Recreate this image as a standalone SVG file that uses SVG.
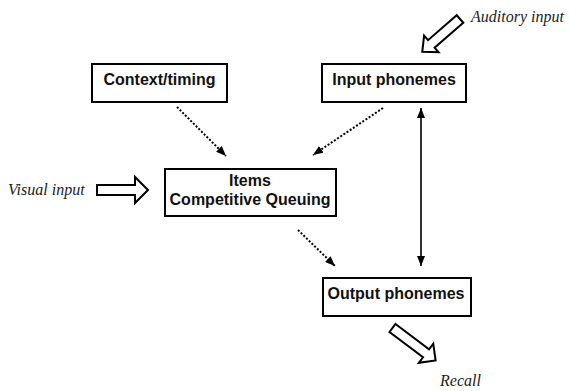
<svg xmlns="http://www.w3.org/2000/svg" width="569" height="391" viewBox="0 0 569 391">
<style>
.box{fill:#fff;stroke:#000;stroke-width:2}
.lbl{font-family:"Liberation Sans",Arial,sans-serif;font-weight:bold;font-size:16px;fill:#111;text-anchor:middle}
.io{font-family:"Liberation Serif","Times New Roman",serif;font-style:italic;font-size:16px;fill:#222}
.dot{stroke:#000;stroke-width:2;stroke-dasharray:2 1.8;fill:none}
.solid{stroke:#000;stroke-width:1.6;fill:none}
.hollow{fill:#fff;stroke:#000;stroke-width:2;stroke-linejoin:miter}
</style>
<defs>
<marker id="ah" viewBox="0 0 10 8" refX="10" refY="4" markerWidth="10" markerHeight="8" markerUnits="userSpaceOnUse" orient="auto-start-reverse">
<path d="M0,0 L10,4 L0,8 Z" fill="#000"/>
</marker>
</defs>
<g id="connectors">
<line class="dot" x1="177" y1="107" x2="226" y2="156" marker-end="url(#ah)"/>
<line class="dot" x1="383" y1="108" x2="313" y2="155" marker-end="url(#ah)"/>
<line class="dot" x1="298" y1="230" x2="335" y2="266" marker-end="url(#ah)"/>
<line class="solid" x1="421" y1="108" x2="421" y2="266" marker-start="url(#ah)" marker-end="url(#ah)"/>
<polygon id="visual-arrow" class="hollow" transform="translate(97,190)" points="0,-5 38,-5 38,-13 51,0 38,13 38,5 0,5"/>
<polygon id="auditory-arrow" class="hollow" transform="translate(460,19) rotate(139)" points="0,-5 38,-5 38,-11 50,0 38,11 38,5 0,5"/>
<polygon id="recall-arrow" class="hollow" transform="translate(392.5,328) rotate(37)" points="0,-5 42,-5 42,-12 54,0 42,12 42,5 0,5"/>
</g>
<g id="context">
<rect class="box" x="92" y="64" width="135" height="38"/>
<text class="lbl" x="159.5" y="85">Context/timing</text>
</g>
<g id="input-phonemes">
<rect class="box" x="322" y="64" width="144" height="38"/>
<text class="lbl" x="394" y="85">Input phonemes</text>
</g>
<g id="items">
<rect class="box" x="165" y="169" width="171" height="47"/>
<text class="lbl" x="250" y="186">Items</text>
<text class="lbl" x="250" y="205">Competitive Queuing</text>
</g>
<g id="output-phonemes">
<rect class="box" x="323" y="278" width="148" height="38"/>
<text class="lbl" x="396" y="299">Output phonemes</text>
</g>
<text class="io" x="8" y="195">Visual input</text>
<text class="io" x="471" y="22">Auditory input</text>
<text class="io" x="440" y="386">Recall</text>
</svg>
